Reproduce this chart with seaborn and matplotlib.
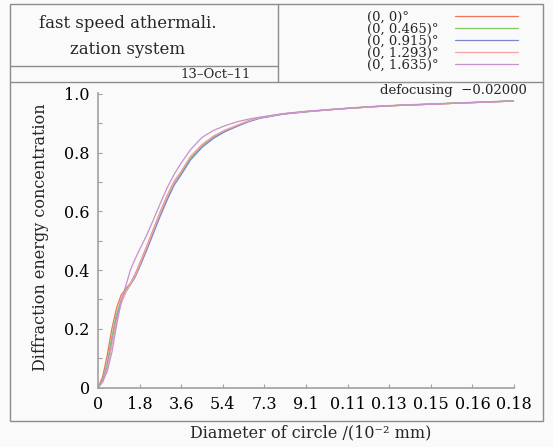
import numpy as np
import pandas as pd
import matplotlib
matplotlib.use("Agg")
import matplotlib.pyplot as plt
from matplotlib.lines import Line2D
from matplotlib.patches import Rectangle
import seaborn as sns

# Encircled diffraction energy vs. circle diameter for five field angles
diameter = [0, .002, .004, .006, .008, .010, .012, .014, .016, .018, .021, .024,
            .027, .030, .033, .036, .040, .045, .050, .055, .060, .065, .070,
            .080, .090, .100, .110, .120, .130, .140, .150, .160, .170, .180]

field_labels = ["(0, 0)°", "(0, 0.465)°", "(0, 0.915)°", "(0, 1.293)°", "(0, 1.635)°"]

energy_f0 = [0, .036, .110, .200, .270, .315, .336, .355, .385, .422, .480, .540,
             .600, .655, .703, .735, .785, .826, .855, .876, .892, .908, .919,
             .932, .940, .946, .952, .957, .961, .964, .967, .970, .973, .976]
energy_f1 = [0, .025, .085, .175, .250, .300, .330, .352, .378, .415, .472, .533,
             .593, .648, .697, .730, .780, .822, .852, .874, .891, .907, .918,
             .932, .940, .947, .953, .958, .962, .965, .968, .971, .974, .977]
energy_f2 = [0, .020, .070, .155, .235, .290, .325, .350, .375, .410, .466, .526,
             .585, .640, .690, .725, .775, .818, .849, .872, .889, .905, .917,
             .931, .939, .946, .952, .957, .961, .964, .967, .970, .973, .976]
energy_f3 = [0, .018, .065, .145, .225, .285, .325, .352, .380, .418, .476, .537,
             .598, .653, .700, .737, .787, .828, .857, .877, .893, .908, .919,
             .932, .940, .946, .952, .957, .961, .964, .967, .970, .973, .976]
energy_f4 = [0, .020, .055, .120, .210, .295, .345, .400, .437, .470, .518, .572,
             .628, .682, .727, .765, .810, .852, .876, .892, .905, .914, .921,
             .933, .941, .947, .952, .957, .961, .964, .967, .970, .973, .976]

x_ticks = [0, .018, .036, .054, .072, .090, .108, .126, .144, .162, .18]
x_tick_labels = ["0", "1.8", "3.6", "5.4", "7.3", "9.1", "0.11", "0.13", "0.15", "0.16", "0.18"]
y_ticks = [0, .2, .4, .6, .8, 1.0]
y_tick_labels = ["0", "0.2", "0.4", "0.6", "0.8", "1.0"]

colors = ["#f07258", "#86c868", "#7a86d0", "#f4a6a6", "#c592cf"]

frames = []
for lab, vals in zip(field_labels, [energy_f0, energy_f1, energy_f2, energy_f3, energy_f4]):
    frames.append(pd.DataFrame({"diameter": diameter, "energy": vals, "field": lab}))
df = pd.concat(frames, ignore_index=True)

sns.set_style("ticks")
plt.rcParams["font.family"] = ["DejaVu Serif"]
plt.rcParams["axes.unicode_minus"] = True

W, H = 553, 447
fig = plt.figure(figsize=(W / 100, H / 100), dpi=100, facecolor="#fafafa")

def fx(px):
    return px / W

def fy(py):
    return 1 - py / H

ax = fig.add_axes([fx(98), fy(387.5), 416 / W, 295 / H])
ax.set_facecolor("#fafafa")

sns.lineplot(data=df, x="diameter", y="energy", hue="field", hue_order=field_labels,
             palette=colors, legend=False, linewidth=0.9, sort=False,
             estimator=None, ax=ax)

ax.set_xlim(0, 0.18)
ax.set_ylim(0, 1.005)
ax.set_xticks(x_ticks)
ax.set_xticklabels(x_tick_labels)
ax.set_yticks(y_ticks)
ax.set_yticklabels(y_tick_labels)
ax.set_yticks(np.arange(0.1, 1.0, 0.2), minor=True)

spine_col = "#a0a0a0"
for s in ["top", "right"]:
    ax.spines[s].set_visible(False)
for s in ["left", "bottom"]:
    ax.spines[s].set_color(spine_col)
    ax.spines[s].set_linewidth(1.2)

ax.tick_params(axis="both", which="both", direction="in", length=3,
               width=0.8, color=spine_col, labelsize=11.5, pad=6,
               labelcolor="black")

ax.set_xlabel("Diameter of circle /(10⁻² mm)", fontsize=11.5, va="center")
ax.set_ylabel("Diffraction energy concentration", fontsize=11.5,
              va="center", ha="center")
ax.xaxis.set_label_coords(0.512, -0.154)
ax.yaxis.set_label_coords(-0.139, 0.508)

# Outer frame and header cells
frame_col = "#8c8c8c"
fig.add_artist(Rectangle((fx(9.5), fy(421)), (543 - 9.5) / W, (421 - 3.5) / H,
                         transform=fig.transFigure, fill=False,
                         edgecolor=frame_col, linewidth=1.0))
fig.add_artist(Line2D([fx(9.5), fx(543)], [fy(82), fy(82)],
                      transform=fig.transFigure, color=frame_col, linewidth=1.0))
fig.add_artist(Line2D([fx(278), fx(278)], [fy(3.5), fy(82)],
                      transform=fig.transFigure, color=frame_col, linewidth=1.0))
fig.add_artist(Line2D([fx(9.5), fx(278)], [fy(66), fy(66)],
                      transform=fig.transFigure, color=frame_col, linewidth=1.0))

fig.text(fx(128), fy(23), "fast speed athermali.", ha="center", va="center", fontsize=12)
fig.text(fx(128), fy(49), "zation system", ha="center", va="center", fontsize=12)
fig.text(fx(251), fy(74), "13–Oct–11", ha="right", va="center", fontsize=9.5)

# Field legend in the header
legend_y = [16.3, 28.3, 40.3, 52, 64]
for lab, col, ly in zip(field_labels, colors, legend_y):
    fig.add_artist(Line2D([fx(455), fx(518)], [fy(ly), fy(ly)],
                          transform=fig.transFigure, color=col, linewidth=0.9))
    fig.text(fx(367), fy(ly + 1), lab, ha="left", va="center", fontsize=9.5)

fig.text(fx(527), fy(90.7), "defocusing  −0.02000", ha="right", va="center", fontsize=9.5)

fig.savefig("out.png", dpi=100, facecolor=fig.get_facecolor())
